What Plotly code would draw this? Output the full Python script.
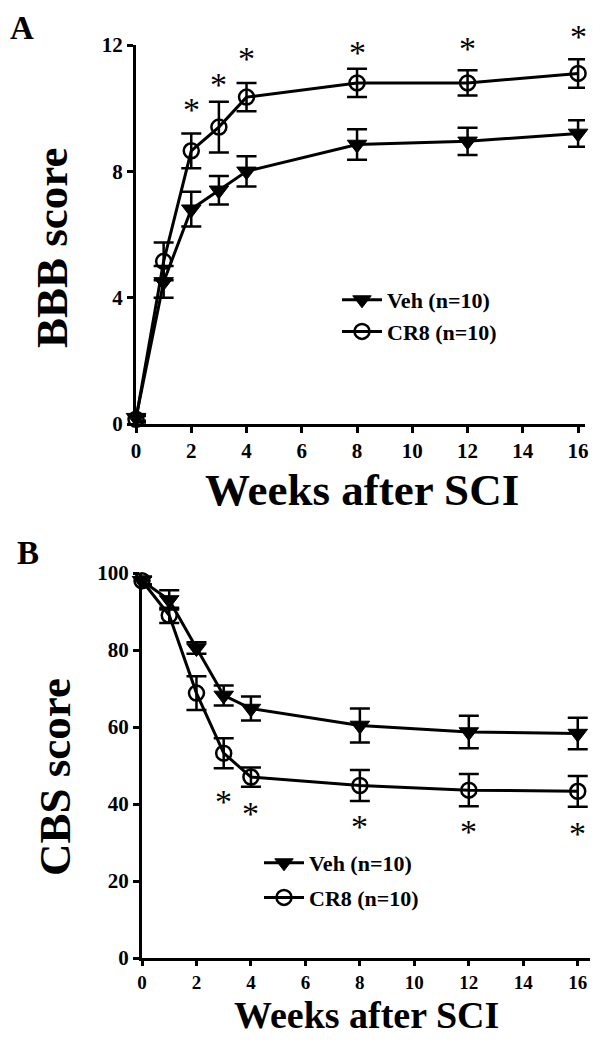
import plotly.graph_objects as go

weeks = [0, 1, 2, 3, 4, 8, 12, 16]

# Panel A: BBB score
bbb_veh = [0.2, 4.5, 6.8, 7.4, 8.0, 8.85, 8.95, 9.2]
bbb_veh_err = [0.1, 0.5, 0.55, 0.45, 0.48, 0.48, 0.43, 0.42]
bbb_cr8 = [0.15, 5.15, 8.65, 9.4, 10.35, 10.8, 10.8, 11.1]
bbb_cr8_err = [0.1, 0.6, 0.55, 0.8, 0.45, 0.45, 0.4, 0.45]
bbb_star_weeks = [2, 3, 4, 8, 12, 16]
bbb_star_y = [10.16, 10.95, 11.77, 11.95, 12.09, 12.47]
bbb_ymax = 12

# Panel B: CBS score
cbs_veh = [98, 93, 80.5, 68.2, 64.8, 60.4, 58.7, 58.3]
cbs_veh_err = [1.0, 2.5, 1.5, 2.6, 3.1, 4.4, 4.2, 4.1]
cbs_cr8 = [98, 89, 68.8, 53.2, 47, 44.8, 43.6, 43.3]
cbs_cr8_err = [1.0, 2.0, 4.4, 3.9, 2.5, 4.0, 4.2, 4.0]
cbs_star_weeks = [3, 4, 8, 12, 16]
cbs_star_y = [42.3, 39.0, 35.8, 34.5, 33.8]
cbs_ymax = 100

FONT = "Liberation Serif"
BLACK = "#000000"

# figure sits inside the page body (8px default margin)
W, H, OFF = 584, 1028, 8

def px(xp):
    return (xp - OFF) / W

def py(yp):
    return 1 - (yp - OFF) / H

def bfont(size):
    return dict(family=FONT, size=size, color=BLACK, weight="bold")

fig = go.Figure()

def add_pair(veh, veh_err, cr8, cr8_err, xa, ya, legend):
    fig.add_trace(go.Scatter(
        x=weeks, y=veh, xaxis=xa, yaxis=ya, name="Veh (n=10)",
        mode="lines+markers", cliponaxis=False, legend=legend, legendgroup=legend + "veh",
        line=dict(color=BLACK, width=3),
        marker=dict(symbol="triangle-down", size=17, color=BLACK, line=dict(color=BLACK, width=1)),
        error_y=dict(type="data", array=veh_err, visible=True, color=BLACK, thickness=2.5, width=10),
    ))
    fig.add_trace(go.Scatter(
        x=weeks, y=cr8, xaxis=xa, yaxis=ya, name="CR8 (n=10)",
        mode="lines+markers", cliponaxis=False, legend=legend, legendgroup=legend + "cr8",
        line=dict(color=BLACK, width=3),
        marker=dict(symbol="circle-open", size=15, color=BLACK, line=dict(color=BLACK, width=2.5)),
        error_y=dict(type="data", array=cr8_err, visible=True, color=BLACK, thickness=2.5, width=10),
    ))

add_pair(bbb_veh, bbb_veh_err, bbb_cr8, bbb_cr8_err, "x", "y", "legend")
add_pair(cbs_veh, cbs_veh_err, cbs_cr8, cbs_cr8_err, "x2", "y2", "legend2")

annotations = []
# significance stars (y given via the axis domain so that ones above the top tick still show)
for wx, wy in zip(bbb_star_weeks, bbb_star_y):
    annotations.append(dict(x=wx, y=wy / bbb_ymax, xref="x", yref="y domain", text="*", showarrow=False,
                            xanchor="center", yanchor="middle", yshift=-6,
                            font=dict(family=FONT, size=34, color=BLACK)))
for wx, wy in zip(cbs_star_weeks, cbs_star_y):
    annotations.append(dict(x=wx, y=wy / cbs_ymax, xref="x2", yref="y2 domain", text="*", showarrow=False,
                            xanchor="center", yanchor="middle", yshift=-6,
                            font=dict(family=FONT, size=34, color=BLACK)))

def ann(xp, yp, text, font, angle=0):
    return dict(x=px(xp), y=py(yp), xref="paper", yref="paper", text=text, showarrow=False,
                xanchor="center", yanchor="middle", textangle=angle, font=font)

annotations += [
    ann(22, 28, "A", bfont(33)),
    ann(28, 553, "B", bfont(33)),
    ann(52, 248, "BBB score", bfont(45), -90),
    ann(55, 777, "CBS score", bfont(45), -90),
    ann(362, 490, "Weeks after SCI", bfont(45)),
    ann(366, 1015, "Weeks after SCI", bfont(38)),
]

axis_common = dict(showgrid=False, zeroline=False, showline=True, linecolor=BLACK, linewidth=3,
                   ticks="outside", tickwidth=2.5, tickcolor=BLACK, automargin=False)

fig.update_layout(
    width=W, height=H,
    margin=dict(l=0, r=0, t=0, b=0, autoexpand=False),
    paper_bgcolor="white", plot_bgcolor="white",
    showlegend=True,
    xaxis=dict(domain=[px(136), px(585)], range=[0, 16.25], tickvals=list(range(0, 17, 2)),
               anchor="y", ticklen=6, tickfont=bfont(21), **axis_common),
    yaxis=dict(domain=[py(424), py(45)], range=[0, bbb_ymax], tickvals=[0, 4, 8, 12],
               anchor="x", ticklen=6, tickfont=bfont(21), **axis_common),
    xaxis2=dict(domain=[px(142), px(590)], range=[0, 16.45], tickvals=list(range(0, 17, 2)),
                anchor="y2", ticklen=5, tickfont=bfont(19), **axis_common),
    yaxis2=dict(domain=[py(958), py(573)], range=[0, cbs_ymax], tickvals=[0, 20, 40, 60, 80, 100],
                anchor="x2", ticklen=6, tickfont=bfont(21), **axis_common),
    legend=dict(x=px(337), y=py(279), xanchor="left", yanchor="top",
                font=bfont(22), bgcolor="rgba(0,0,0,0)",
                traceorder="grouped", tracegroupgap=0, itemwidth=40),
    legend2=dict(x=px(259), y=py(842), xanchor="left", yanchor="top",
                 font=bfont(22), bgcolor="rgba(0,0,0,0)",
                 traceorder="grouped", tracegroupgap=3, itemwidth=40),
    annotations=annotations,
)

fig.write_html("out.html")
